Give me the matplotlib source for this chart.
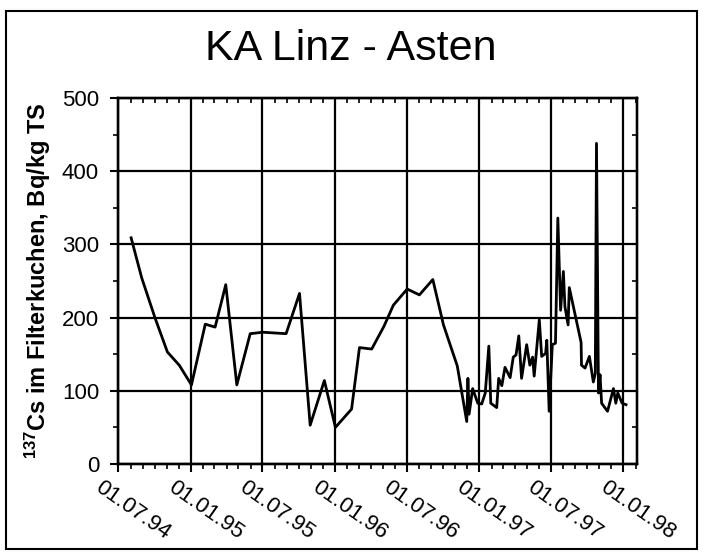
import matplotlib
matplotlib.use("Agg")
import matplotlib.pyplot as plt
import matplotlib.dates as mdates
import matplotlib.transforms as mtransforms
from matplotlib.patches import Rectangle
import pandas as pd

plt.rcParams['font.family'] = ['Liberation Sans', 'DejaVu Sans']
plt.rcParams['mathtext.fontset'] = 'custom'
plt.rcParams['mathtext.rm'] = 'Liberation Sans'
plt.rcParams['mathtext.bf'] = 'Liberation Sans:bold'

# Cs-137 im Filterkuchen, KA Linz - Asten
dates = ["1994-08-02", "1994-08-29", "1994-10-02", "1994-11-02", "1994-12-02",
         "1995-01-02", "1995-02-06", "1995-03-03", "1995-03-30", "1995-04-27",
         "1995-05-31", "1995-07-02", "1995-08-30", "1995-10-03", "1995-10-30",
         "1995-12-05", "1996-01-02", "1996-02-12", "1996-03-03", "1996-04-03",
         "1996-05-04", "1996-05-28", "1996-07-02", "1996-08-02", "1996-09-05",
         "1996-10-02", "1996-11-06", "1996-11-30", "1996-12-03", "1996-12-06",
         "1996-12-15", "1996-12-28", "1997-01-07", "1997-01-16", "1997-01-25",
         "1997-01-30", "1997-02-14", "1997-02-19", "1997-02-27", "1997-03-07",
         "1997-03-20", "1997-03-28", "1997-04-04", "1997-04-11", "1997-04-18",
         "1997-05-01", "1997-05-09", "1997-05-16", "1997-05-20", "1997-06-02",
         "1997-06-08", "1997-06-18", "1997-06-21", "1997-06-27", "1997-07-05",
         "1997-07-13", "1997-07-19", "1997-07-26", "1997-08-02", "1997-08-06",
         "1997-08-14", "1997-08-17", "1997-08-31", "1997-09-16", "1997-09-17",
         "1997-09-26", "1997-10-07", "1997-10-17", "1997-10-22", "1997-10-25",
         "1997-10-30", "1997-11-03", "1997-11-07", "1997-11-22", "1997-12-07",
         "1997-12-13", "1997-12-18", "1997-12-29", "1998-01-08"]
cs137 = [309, 254, 199, 153, 135,
         108, 191, 187, 245, 108,
         178, 180, 178, 233, 53,
         114, 50, 75, 159, 157,
         188, 217, 239, 231, 252,
         190, 134, 58, 117, 68,
         103, 83, 82, 97, 161,
         83, 77, 117, 107, 132,
         118, 146, 149, 175, 117,
         163, 135, 146, 120, 197,
         147, 151, 169, 72, 163,
         165, 336, 210, 263, 215,
         190, 241, 206, 166, 135,
         131, 147, 112, 124, 438,
         97, 122, 83, 72, 103,
         83, 97, 83, 81]

x_start = pd.Timestamp("1994-07-01")
x_end = pd.Timestamp("1998-02-04")

t = pd.to_datetime(dates)

fig = plt.figure(figsize=(7.02, 5.54), dpi=100)
ax = fig.add_axes([0.1688, 0.1625, 0.7382, 0.6606])

ax.plot(t, cs137, color='black', lw=2.0, zorder=3)

ax.set_xlim(x_start, x_end)
ax.set_ylim(0, 500)

ax.xaxis.set_major_locator(mdates.MonthLocator(bymonth=[1, 7]))
ax.xaxis.set_minor_locator(mdates.MonthLocator())
ax.xaxis.set_major_formatter(mdates.DateFormatter('%d.%m.%y'))
ax.yaxis.set_major_locator(plt.MultipleLocator(100))
ax.yaxis.set_minor_locator(plt.MultipleLocator(50))

ax.grid(True, which='major', color='black', lw=1.6)
for s in ax.spines.values():
    s.set_linewidth(1.6)

ax.tick_params(which='major', direction='out', length=6, width=1.5, labelsize=16)
ax.tick_params(which='minor', direction='out', length=3.5, width=1.2)
ax.tick_params(axis='y', which='major', pad=8)

# ticks on top and right point inwards
top = ax.twiny()
top.set_xlim(ax.get_xlim())
top.xaxis.set_major_locator(mdates.MonthLocator())
top.tick_params(axis='x', direction='in', length=3.5, width=1.2, labeltop=False)
right = ax.twinx()
right.set_ylim(ax.get_ylim())
right.yaxis.set_major_locator(plt.MultipleLocator(50))
right.tick_params(axis='y', direction='in', length=3.5, width=1.2, labelright=False)
for a in (top, right):
    for s in a.spines.values():
        s.set_linewidth(1.6)

shift = mtransforms.ScaledTranslation(-15 / 100, 0, fig.dpi_scale_trans)
for lab in ax.get_xticklabels():
    lab.set_rotation(-35)
    lab.set_rotation_mode('anchor')
    lab.set_ha('left')
    lab.set_va('top')
    lab.set_transform(lab.get_transform() + shift)

ax.set_ylabel(r'$\mathbf{^{137}}$Cs im Filterkuchen, Bq/kg TS', fontsize=17,
              fontweight='bold', labelpad=6)

fig.text(0.5, 0.911, 'KA Linz - Asten', ha='center', va='center', fontsize=31)

fig.patches.append(Rectangle((6 / 702, 5 / 554), 691 / 702, 538 / 554,
                             transform=fig.transFigure, fill=False,
                             edgecolor='black', lw=1.5))

fig.savefig('out.png', dpi=100)
